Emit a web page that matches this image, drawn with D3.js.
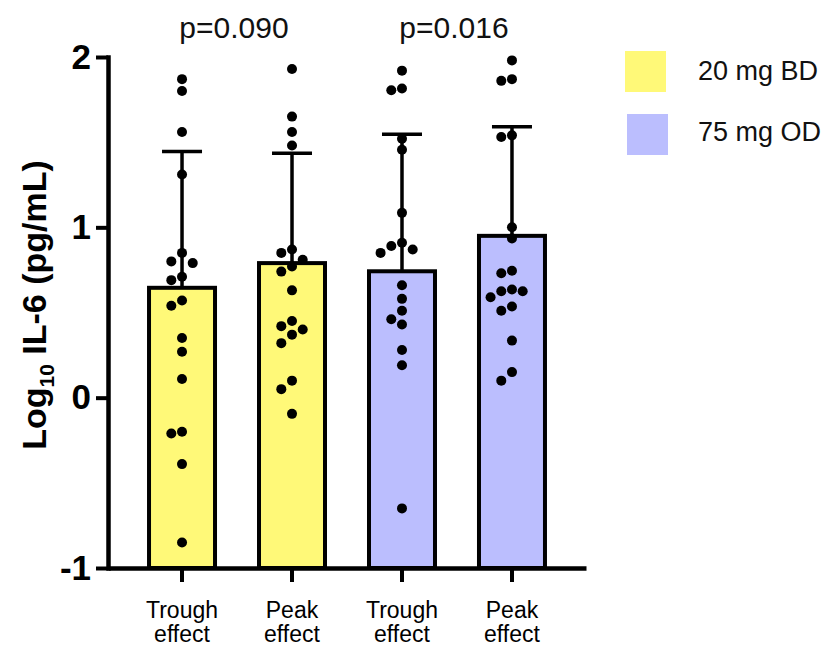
<!DOCTYPE html>
<html>
<head>
<meta charset="utf-8">
<script src="https://cdn.jsdelivr.net/npm/d3@7"></script>
<style>
  html, body { margin: 0; padding: 0; background: #fff; }
  svg { display: block; font-family: "Liberation Sans", Arial, Helvetica, sans-serif; }
</style>
</head>
<body>
<svg id="chart" width="824" height="646"></svg>
<script>
// Groups along the x axis
const groups = ["BD-trough", "BD-peak", "OD-trough", "OD-peak"];
const groupLabels = [["Trough", "effect"], ["Peak", "effect"], ["Trough", "effect"], ["Peak", "effect"]];
const groupDose = ["20 mg BD", "20 mg BD", "75 mg OD", "75 mg OD"];

// Bar height (mean) and upper error bar (SD) per group, log10 IL-6
const means = [0.645, 0.79, 0.742, 0.95];
const sds = [0.80, 0.645, 0.805, 0.64];

// Individual log10 IL-6 values per group
const bdTrough = [1.87, 1.80, 1.56, 1.31, 0.85, 0.79, 0.80, 0.71, 0.69, 0.57, 0.54, 0.35, 0.27, 0.11, -0.21, -0.20, -0.39, -0.85];
const bdPeak = [1.93, 1.65, 1.56, 1.48, 0.87, 0.85, 0.81, 0.77, 0.74, 0.63, 0.45, 0.42, 0.40, 0.37, 0.32, 0.10, 0.05, -0.095];
const odTrough = [1.92, 1.815, 1.805, 1.52, 1.456, 1.085, 0.89, 0.91, 0.85, 0.87, 0.66, 0.58, 0.51, 0.46, 0.43, 0.28, 0.19, -0.65];
const odPeak = [1.98, 1.86, 1.87, 1.54, 1.53, 1.00, 0.935, 0.73, 0.745, 0.625, 0.625, 0.59, 0.635, 0.535, 0.51, 0.335, 0.15, 0.10];
const points = [bdTrough, bdPeak, odTrough, odPeak];

// Significance labels between dose pairs
const pairs = [["BD-trough", "BD-peak"], ["OD-trough", "OD-peak"]];
const pLabels = ["p=0.090", "p=0.016"];

// Legend
const doses = ["20 mg BD", "75 mg OD"];
const yTicks = [-1, 0, 1, 2];

const colors = { "20 mg BD": "#FFF978", "75 mg OD": "#BBBEFE" };

const svg = d3.select("#chart");

const x = d3.scaleBand().domain(groups).range([108, 586]).paddingInner(0.4).paddingOuter(0.373);
const y = d3.scaleLinear().domain([-1, 2]).range([568, 57]);

// Bars from the axis floor up to the mean
svg.append("g").selectAll("rect")
  .data(groups)
  .join("rect")
  .attr("x", d => x(d))
  .attr("width", x.bandwidth())
  .attr("y", (d, i) => y(means[i]))
  .attr("height", (d, i) => y(-1) - y(means[i]))
  .attr("fill", (d, i) => colors[groupDose[i]])
  .attr("stroke", "#000")
  .attr("stroke-width", 4);

// Upper SD whiskers with caps
const eb = svg.append("g").attr("stroke", "#000").attr("stroke-width", 3.5);
groups.forEach((g, i) => {
  const cx = x(g) + x.bandwidth() / 2;
  eb.append("line").attr("x1", cx).attr("x2", cx)
    .attr("y1", y(means[i])).attr("y2", y(means[i] + sds[i]));
  eb.append("line").attr("x1", cx - 20).attr("x2", cx + 20)
    .attr("y1", y(means[i] + sds[i])).attr("y2", y(means[i] + sds[i]));
});

// Scatter dots laid out in lanes so that neighbours don't overlap
const r = 5, lane = 10.7;
const laneOrder = [0, -1, 1, -2, 2, -3, 3, -4, 4];
const dotG = svg.append("g").attr("fill", "#000");
groups.forEach((g, i) => {
  const cx = x(g) + x.bandwidth() / 2;
  const placed = [];
  const vals = points[i].slice().sort((a, b) => b - a);
  vals.forEach(v => {
    const py = y(v);
    let k = laneOrder.find(l => !placed.some(p => p.l === l && Math.abs(p.y - py) < 2 * r + 0.5));
    if (k === undefined) k = 0;
    placed.push({ l: k, y: py });
    dotG.append("circle").attr("cx", cx + k * lane).attr("cy", py).attr("r", r);
  });
});

// Y axis
const yAxis = svg.append("g")
  .attr("transform", "translate(108,0)")
  .call(d3.axisLeft(y).tickValues(yTicks).tickFormat(d => String(d)).tickSize(12).tickSizeOuter(0).tickPadding(5));
yAxis.select(".domain").attr("stroke-width", 4.5).attr("stroke-linecap", "square");
yAxis.selectAll(".tick line").attr("stroke-width", 4);
yAxis.selectAll(".tick text")
  .attr("font-size", 35).attr("font-weight", "bold").attr("fill", "#000")
  .attr("font-family", "'Liberation Sans', Arial, sans-serif");

// X axis
const xAxis = svg.append("g")
  .attr("transform", `translate(0,${y(-1)})`)
  .call(d3.axisBottom(x).tickSize(14).tickSizeOuter(0).tickFormat(""));
xAxis.select(".domain").attr("stroke-width", 4.5);
xAxis.selectAll(".tick line").attr("stroke-width", 4);

// Two-line category labels
const xl = svg.append("g").attr("font-size", 23).attr("text-anchor", "middle").attr("fill", "#000");
groups.forEach((g, i) => {
  const t = xl.append("text").attr("x", x(g) + x.bandwidth() / 2).attr("y", 618);
  t.append("tspan").attr("x", x(g) + x.bandwidth() / 2).text(groupLabels[i][0]);
  t.append("tspan").attr("x", x(g) + x.bandwidth() / 2).attr("dy", 24).text(groupLabels[i][1]);
});

// Y axis title with subscript
const title = svg.append("text")
  .attr("transform", "translate(46,305) rotate(-90)")
  .attr("text-anchor", "middle")
  .attr("font-size", 34).attr("font-weight", "bold").attr("fill", "#000");
title.append("tspan").text("Log");
title.append("tspan").attr("font-size", 21).attr("dy", 8).text("10");
title.append("tspan").attr("dy", -8).text(" IL-6 (pg/mL)");

// p-values over each dose pair
svg.append("g").selectAll("text")
  .data(pairs)
  .join("text")
  .attr("x", d => (x(d[0]) + x(d[1]) + x.bandwidth()) / 2 - 3)
  .attr("y", 38)
  .attr("text-anchor", "middle")
  .attr("font-size", 30)
  .attr("fill", "#111")
  .text((d, i) => pLabels[i]);

// Legend
const leg = svg.append("g");
doses.forEach((d, i) => {
  leg.append("rect").attr("x", 625 + i * 2).attr("y", 51 + i * 63).attr("width", 41).attr("height", 41)
    .attr("fill", colors[d]);
  leg.append("text").attr("x", 698).attr("y", 80 + i * 61).attr("font-size", 27).attr("fill", "#111").text(d);
});
</script>
</body>
</html>
